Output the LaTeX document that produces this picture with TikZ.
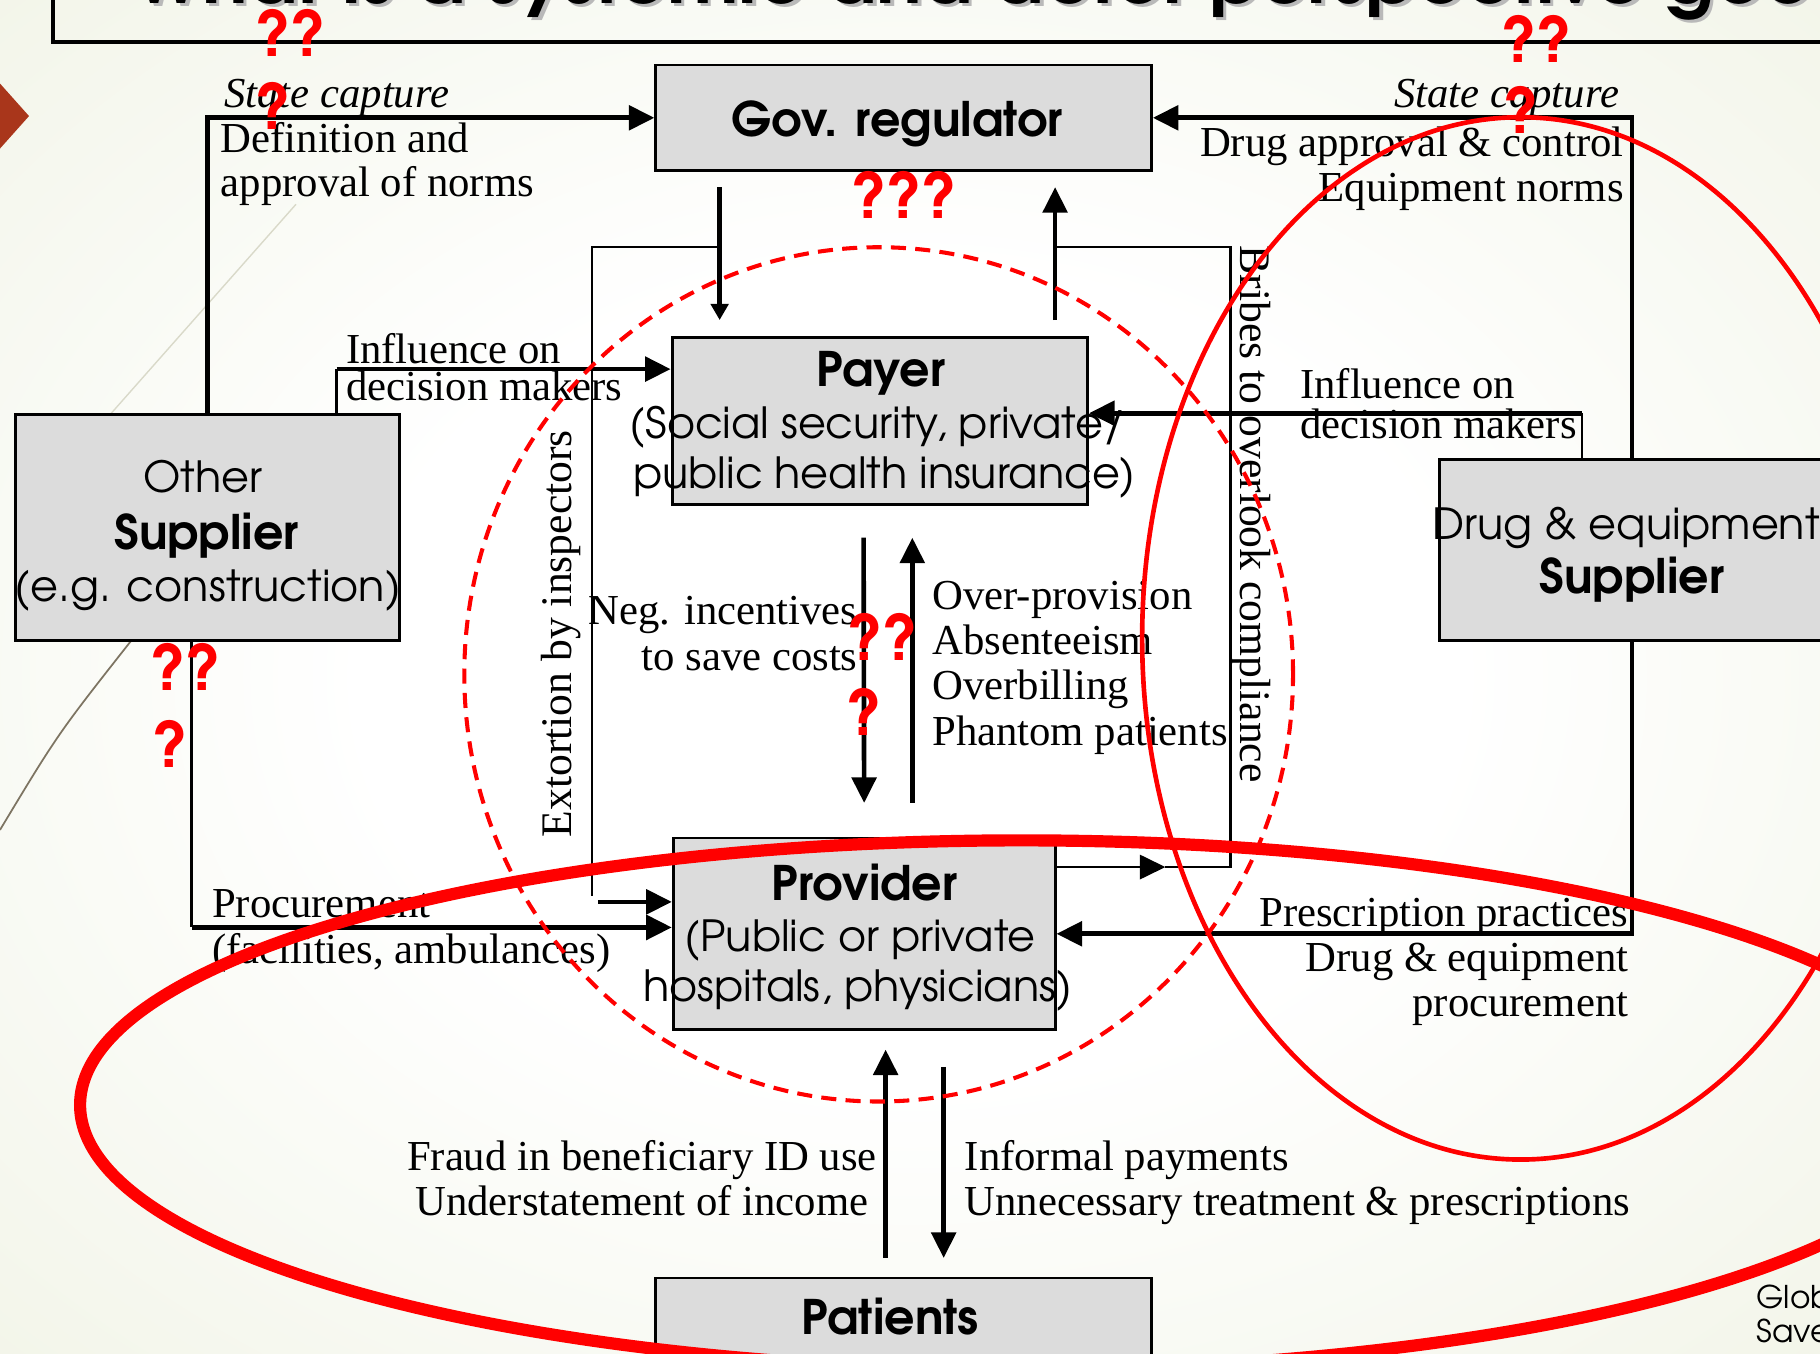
\documentclass[tikz,border=0pt]{standalone}
\usepackage{fontspec}
\setmainfont{Liberation Serif}
\newfontfamily\gothic{TeX Gyre Adventor}
\usetikzlibrary{arrows.meta}
\definecolor{boxfill}{HTML}{DCDCDC}
\definecolor{bgout}{HTML}{E6EBD3}
\colorlet{bgmid}{bgout!55!white}
\definecolor{chev}{HTML}{A9361B}
\definecolor{decoA}{HTML}{7D7462}
\definecolor{decoB}{HTML}{D9D9C9}
\newcommand\lblfont{\fontsize{36.8}{40}\selectfont}
\newcommand\lblitfont{\fontsize{36.8}{40}\selectfont\itshape}
\newcommand\rotfont{\fontsize{37.6}{40}\selectfont}
\newcommand\boxreg{\gothic\fontsize{37}{44}\selectfont}
\newcommand\boxbold{\gothic\bfseries\fontsize{41}{44}\selectfont}
\newcommand\qmfont{\gothic\bfseries\fontsize{54}{56}\selectfont}
\newcommand\ttlfont{\gothic\bfseries\fontsize{65.5}{68}\selectfont}
\newcommand\footfont{\gothic\fontsize{27}{30}\selectfont}
\pgfdeclareradialshading{slidebg}{\pgfpointorigin}{color(0bp)=(white); color(15bp)=(white); color(38bp)=(bgmid); color(60bp)=(bgout); color(80bp)=(bgout)}
\tikzset{
  box/.style={draw=black, fill=boxfill, line width=2.5pt, inner sep=0pt},
  thickl/.style={line width=4pt},
  thinl/.style={line width=2pt},
  arr/.style={-{Triangle[length=22pt,width=21pt]}},
  sarr/.style={-{Triangle[length=14pt,width=15pt]}},
  lbl/.style={font=\lblfont, inner sep=0pt},
  lblit/.style={font=\lblitfont, inner sep=0pt},
  rlbl/.style={font=\rotfont, inner sep=0pt},
  breg/.style={font=\boxreg, inner sep=0pt, anchor=base},
  bbold/.style={font=\boxbold, inner sep=0pt, anchor=base},
  qm/.style={font=\qmfont, text=red, inner sep=0pt, anchor=base},
  redline/.style={draw=red},
}
\begin{document}
\begin{tikzpicture}[x=1pt, y=-1pt]
\useasboundingbox (0,0) rectangle (1568,1166);
\clip (0,0) rectangle (1568,1166);
% background
\shade[shading=slidebg] (0,0) rectangle (1568,1166);
\draw[decoA, line width=1.5pt] (0,715) .. controls (50,632) .. (113,552);
\draw[decoB, line width=1.2pt] (95,357) -- (255,176);
\fill[chev] (0,72) -- (25,100) -- (0,128) -- cycle;
% title
\node[font=\ttlfont, text=gray!55, anchor=base west, inner sep=0pt] (ttlsh) at (118,6) {What is a systemic and actor perspective good for?};
\node[font=\ttlfont, anchor=base west, inner sep=0pt] (ttl) at (115,3) {What is a systemic and actor perspective good for?};
\draw[line width=3.5pt] (46,-5) -- (46,36) -- (1575,36);

% boxes
\node[box, minimum width=427pt, minimum height=91pt] (gov) at (778.5,101.5) {};
\node[box, minimum width=358pt, minimum height=144pt] (payer) at (758,363) {};
\node[box, minimum width=331pt, minimum height=195pt] (other) at (178.5,454.5) {};
\node[box, minimum width=360pt, minimum height=156pt] (drug) at (1420,474) {};
\node[box, minimum width=329pt, minimum height=165pt] (provider) at (744.5,804.5) {};
\node[box, minimum width=427pt, minimum height=84pt] (patients) at (778.5,1143) {};

% connectors
\draw[thickl, arr] (other.north) |- (gov.west);
\coordinate (ia) at (290,318);
\draw[thinl] ([xshift=111.5pt]other.north) -- (ia);
\draw[thickl, arr] (ia) -- (ia -| payer.west);
\coordinate (pa) at (165,799);
\draw[thinl] ([xshift=-13.5pt]other.south) -- (pa);
\draw[thickl, arr] (pa) -- (pa -| provider.west);

\draw[thickl, sarr] ([xshift=-158.5pt,yshift=-13pt]gov.south) -- ([xshift=-138pt,yshift=14pt]payer.north);
\draw[thickl, arr] ([xshift=151pt,yshift=14pt]payer.north) -- ([xshift=130.5pt,yshift=-13pt]gov.south);

\coordinate (ea) at (620,213);
\coordinate (eb) at (510,213);
\coordinate (ec) at (510,772);
\draw[thinl] (ea) -- (eb) -- (ec);
\coordinate (ed) at (515,777);
\draw[thickl, arr] (ed) -- (ed -| provider.west);

\coordinate (ba) at (1004,747);
\coordinate (bb) at (1060,747);
\coordinate (bc) at (1060,213);
\coordinate (bd) at (909,213);
\draw[thinl, arr] (ba -| provider.east) -- (ba);
\draw[thinl] (ba) -- (bb) -- (bc) -- (bd);

\draw[thickl, arr] ([xshift=-14pt,yshift=-27pt]payer.south) -- ([yshift=29pt]provider.north);
\draw[thickl, arr] ([xshift=41.5pt,yshift=29pt]provider.north) -- ([xshift=28pt,yshift=-27pt]payer.south);

\coordinate (ib) at (1363,356);
\draw[thinl] ([xshift=-57pt]drug.north) -- (ib);
\draw[thickl, arr] (ib) -- (ib -| payer.east);
\draw[thickl, arr] ([xshift=-14pt]drug.north) |- (gov.east);
\draw[thickl, arr] ([xshift=-14pt]drug.south) |- (provider.east);

\draw[thickl, arr] ([xshift=-15.5pt,yshift=16pt]patients.north) -- ([xshift=18.5pt,yshift=-16pt]provider.south);
\draw[thickl, arr] ([xshift=68.5pt,yshift=-31pt]provider.south) -- ([xshift=34.5pt,yshift=16pt]patients.north);

% box texts
\node[bbold] (govt) at (773,118) {Gov. regulator};
\node[bbold] (payt1) at (759,333) {Payer};
\node[breg] (payt2) at (756,377.5) {(Social security, private/};
\node[breg] (payt3) at (762,420.5) {public health insurance)};
\node[breg] (oth1) at (175,424) {Other};
\node[bbold] (oth2) at (178,473) {Supplier};
\node[breg] (oth3) at (179,518.5) {(e.g. construction)};
\node[breg] (drg1) at (1401,465) {Drug \& equipment};
\node[bbold] (drg2) at (1406,511) {Supplier};
\node[bbold] (prv1) at (745,775.5) {Provider};
\node[breg] (prv2) at (741,820) {(Public or private};
\node[breg] (prv3) at (739,863) {hospitals, physicians)};
\node[bbold] (pat1) at (767,1150) {Patients};

% labels
\node[lblit, anchor=base west] (sc1) at (193,93) {State capture};
\node[lbl, anchor=base west] (def1) at (190,131) {Definition and};
\node[lbl, anchor=base west] (def2) at (190,169.5) {approval of norms};
\node[lbl, anchor=base west] (inf1) at (298,313) {Influence on};
\node[lbl, anchor=base west] (inf2) at (298,345) {decision makers};
\node[lblit, anchor=base east] (sc2) at (1395,93) {State capture};
\node[lbl, anchor=base east] (dac) at (1399,135) {Drug approval \& control};
\node[lbl, anchor=base east] (eqn) at (1399,174) {Equipment norms};
\node[lbl, anchor=base west] (inf3) at (1120,343) {Influence on};
\node[lbl, anchor=base west] (inf4) at (1120,378) {decision makers};
\node[lbl, anchor=base east] (neg1) at (739,538) {Neg. incentives};
\node[lbl, anchor=base east] (neg2) at (739,577.5) {to save costs};
\node[lbl, anchor=base west] (ov1) at (803,525) {Over-provision};
\node[lbl, anchor=base west] (ov2) at (803,564) {Absenteeism};
\node[lbl, anchor=base west] (ov3) at (803,603) {Overbilling};
\node[lbl, anchor=base west] (ov4) at (803,642) {Phantom patients};
\node[rlbl, rotate=90, anchor=base] (ext) at (492,546) {Extortion by inspectors};
\node[rlbl, rotate=-90, anchor=base] (bri) at (1069,443) {Bribes to overlook compliance};
\node[lbl, anchor=base west] (pro1) at (182.5,790.5) {Procurement};
\node[lbl, anchor=base west] (pro2) at (182.5,830) {(facilities, ambulances)};
\node[lbl, anchor=base east] (pre1) at (1403,798.5) {Prescription practices};
\node[lbl, anchor=base east] (pre2) at (1403,837) {Drug \& equipment};
\node[lbl, anchor=base east] (pre3) at (1403,876) {procurement};
\node[lbl, anchor=base] (fr1) at (553,1008) {Fraud in beneficiary ID use};
\node[lbl, anchor=base] (fr2) at (553,1047) {Understatement of income};
\node[lbl, anchor=base west] (inp1) at (831,1008) {Informal payments};
\node[lbl, anchor=base west] (inp2) at (831,1047) {Unnecessary treatment \& prescriptions};
\node[font=\footfont, anchor=base west, inner sep=0pt] (ft1) at (1513,1127) {Glob};
\node[font=\footfont, anchor=base west, inner sep=0pt] (ft2) at (1513,1157) {Save};

% red annotations
\draw[redline, line width=3.5pt, dash pattern=on 13pt off 8pt] (757,581) ellipse [x radius=357pt, y radius=368pt];
\draw[redline, line width=4pt] (1310,550) ellipse [x radius=326pt, y radius=449pt];
\draw[redline, line width=10.5pt] (880,952) ellipse [x radius=811pt, y radius=228pt];
\node[qm] (q1) at (251.5,49) {??};
\node[qm] (q2) at (236,112) {?};
\node[qm] (q3) at (1325,54) {??};
\node[qm] (q4) at (1311,115) {?};
\node[qm] (q5) at (780,188) {???};
\node[qm] (q6) at (161,595) {??};
\node[qm] (q7) at (147,661) {?};
\node[qm] (q8) at (761,569) {??};
\node[qm] (q9) at (745,634) {?};
\end{tikzpicture}
\end{document}
